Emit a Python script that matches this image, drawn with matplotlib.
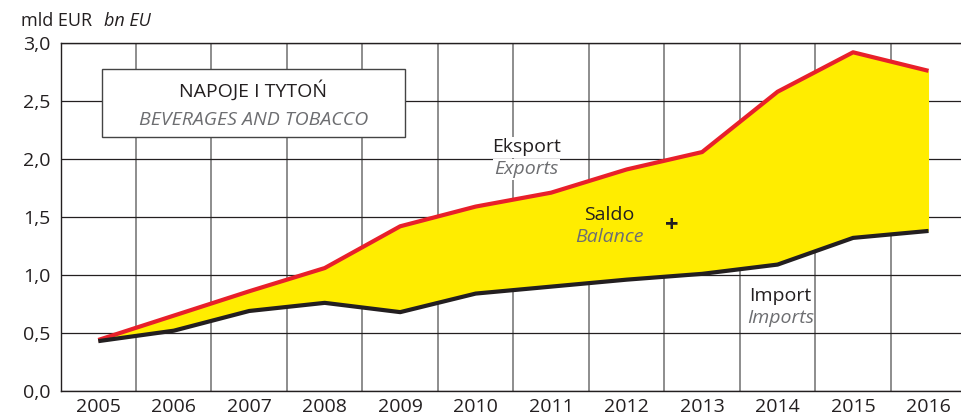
import matplotlib.pyplot as plt
from matplotlib.patches import Rectangle
from matplotlib.ticker import FuncFormatter, FixedLocator

plt.rcParams['font.family'] = ['Open Sans', 'DejaVu Sans']

years = [2005, 2006, 2007, 2008, 2009, 2010, 2011, 2012, 2013, 2014, 2015, 2016]
exports = [0.44, 0.65, 0.86, 1.06, 1.42, 1.59, 1.71, 1.91, 2.06, 2.58, 2.92, 2.76]
imports = [0.43, 0.52, 0.69, 0.76, 0.68, 0.84, 0.90, 0.96, 1.01, 1.09, 1.32, 1.38]
yticks = [0.0, 0.5, 1.0, 1.5, 2.0, 2.5, 3.0]

RED = '#e8202a'
BLACK = '#231f20'
YELLOW = '#ffed00'
GREY_TXT = '#6d6e71'

fig = plt.figure(figsize=(9.61, 4.20), dpi=100)
ax = fig.add_axes([0.063, 0.069, 0.937, 0.8286])

ax.fill_between(years, imports, exports, color=YELLOW, lw=0, zorder=2)
ax.plot(years, exports, color=RED, lw=3, zorder=3, solid_capstyle='butt')
ax.plot(years, imports, color=BLACK, lw=3, zorder=3, solid_capstyle='butt')

ax.set_xlim(2004.5, 2016.43)
ax.set_ylim(0, 3)
ax.set_xticks(years)
ax.xaxis.set_minor_locator(FixedLocator([y + 0.5 for y in years[:-1]]))
ax.set_yticks(yticks)
ax.yaxis.set_major_formatter(FuncFormatter(lambda v, p: f'{v:.1f}'.replace('.', ',')))
ax.tick_params(axis='both', which='both', length=0, labelsize=14, colors=BLACK)
ax.tick_params(axis='x', pad=5)
ax.tick_params(axis='y', pad=7)

ax.set_axisbelow(True)
ax.grid(axis='y', which='major', color=BLACK, lw=0.9)
ax.grid(axis='x', which='minor', color='#7a7a7a', lw=1.2)
ax.grid(axis='x', which='major', visible=False)
for s in ['left', 'bottom', 'top']:
    ax.spines[s].set_color(BLACK)
    ax.spines[s].set_linewidth(1.0)
ax.spines['right'].set_visible(False)

# title box
ax.add_patch(Rectangle((0.046, 0.730), 0.3365, 0.195, transform=ax.transAxes,
                       facecolor='white', edgecolor='#444444', lw=1.0, zorder=4))
ax.text(0.214, 0.865, 'NAPOJE I TYTOŃ', transform=ax.transAxes, ha='center', va='center',
        fontsize=14, color=BLACK, zorder=5)
ax.text(0.214, 0.779, 'BEVERAGES AND TOBACCO', transform=ax.transAxes, ha='center',
        va='center', fontsize=14, style='italic', color=GREY_TXT, zorder=5)

# series labels
ax.text(2010.67, 2.10, 'Eksport', ha='center', va='center', fontsize=14, color=BLACK,
        zorder=5, bbox=dict(facecolor='white', edgecolor='none', pad=1))
ax.text(2010.67, 1.91, 'Exports', ha='center', va='center', fontsize=14, style='italic',
        color=GREY_TXT, zorder=5, bbox=dict(facecolor='white', edgecolor='none', pad=1))
ax.text(2011.77, 1.52, 'Saldo', ha='center', va='center', fontsize=14, color=BLACK, zorder=5)
ax.text(2011.77, 1.33, 'Balance', ha='center', va='center', fontsize=14, style='italic',
        color=GREY_TXT, zorder=5)
ax.text(2012.6, 1.42, '+', ha='center', va='center', fontsize=17, fontweight='bold',
        color=BLACK, zorder=5)
ax.text(2014.04, 0.82, 'Import', ha='center', va='center', fontsize=14, color=BLACK, zorder=5)
ax.text(2014.04, 0.63, 'Imports', ha='center', va='center', fontsize=14, style='italic',
        color=GREY_TXT, zorder=5)

fig.text(0.022, 0.950, 'mld EUR', ha='left', va='center', fontsize=13, color=BLACK)
fig.text(0.108, 0.950, 'bn EU', ha='left', va='center', fontsize=13, style='italic',
         color=BLACK)

fig.savefig('out.png', dpi=100)
